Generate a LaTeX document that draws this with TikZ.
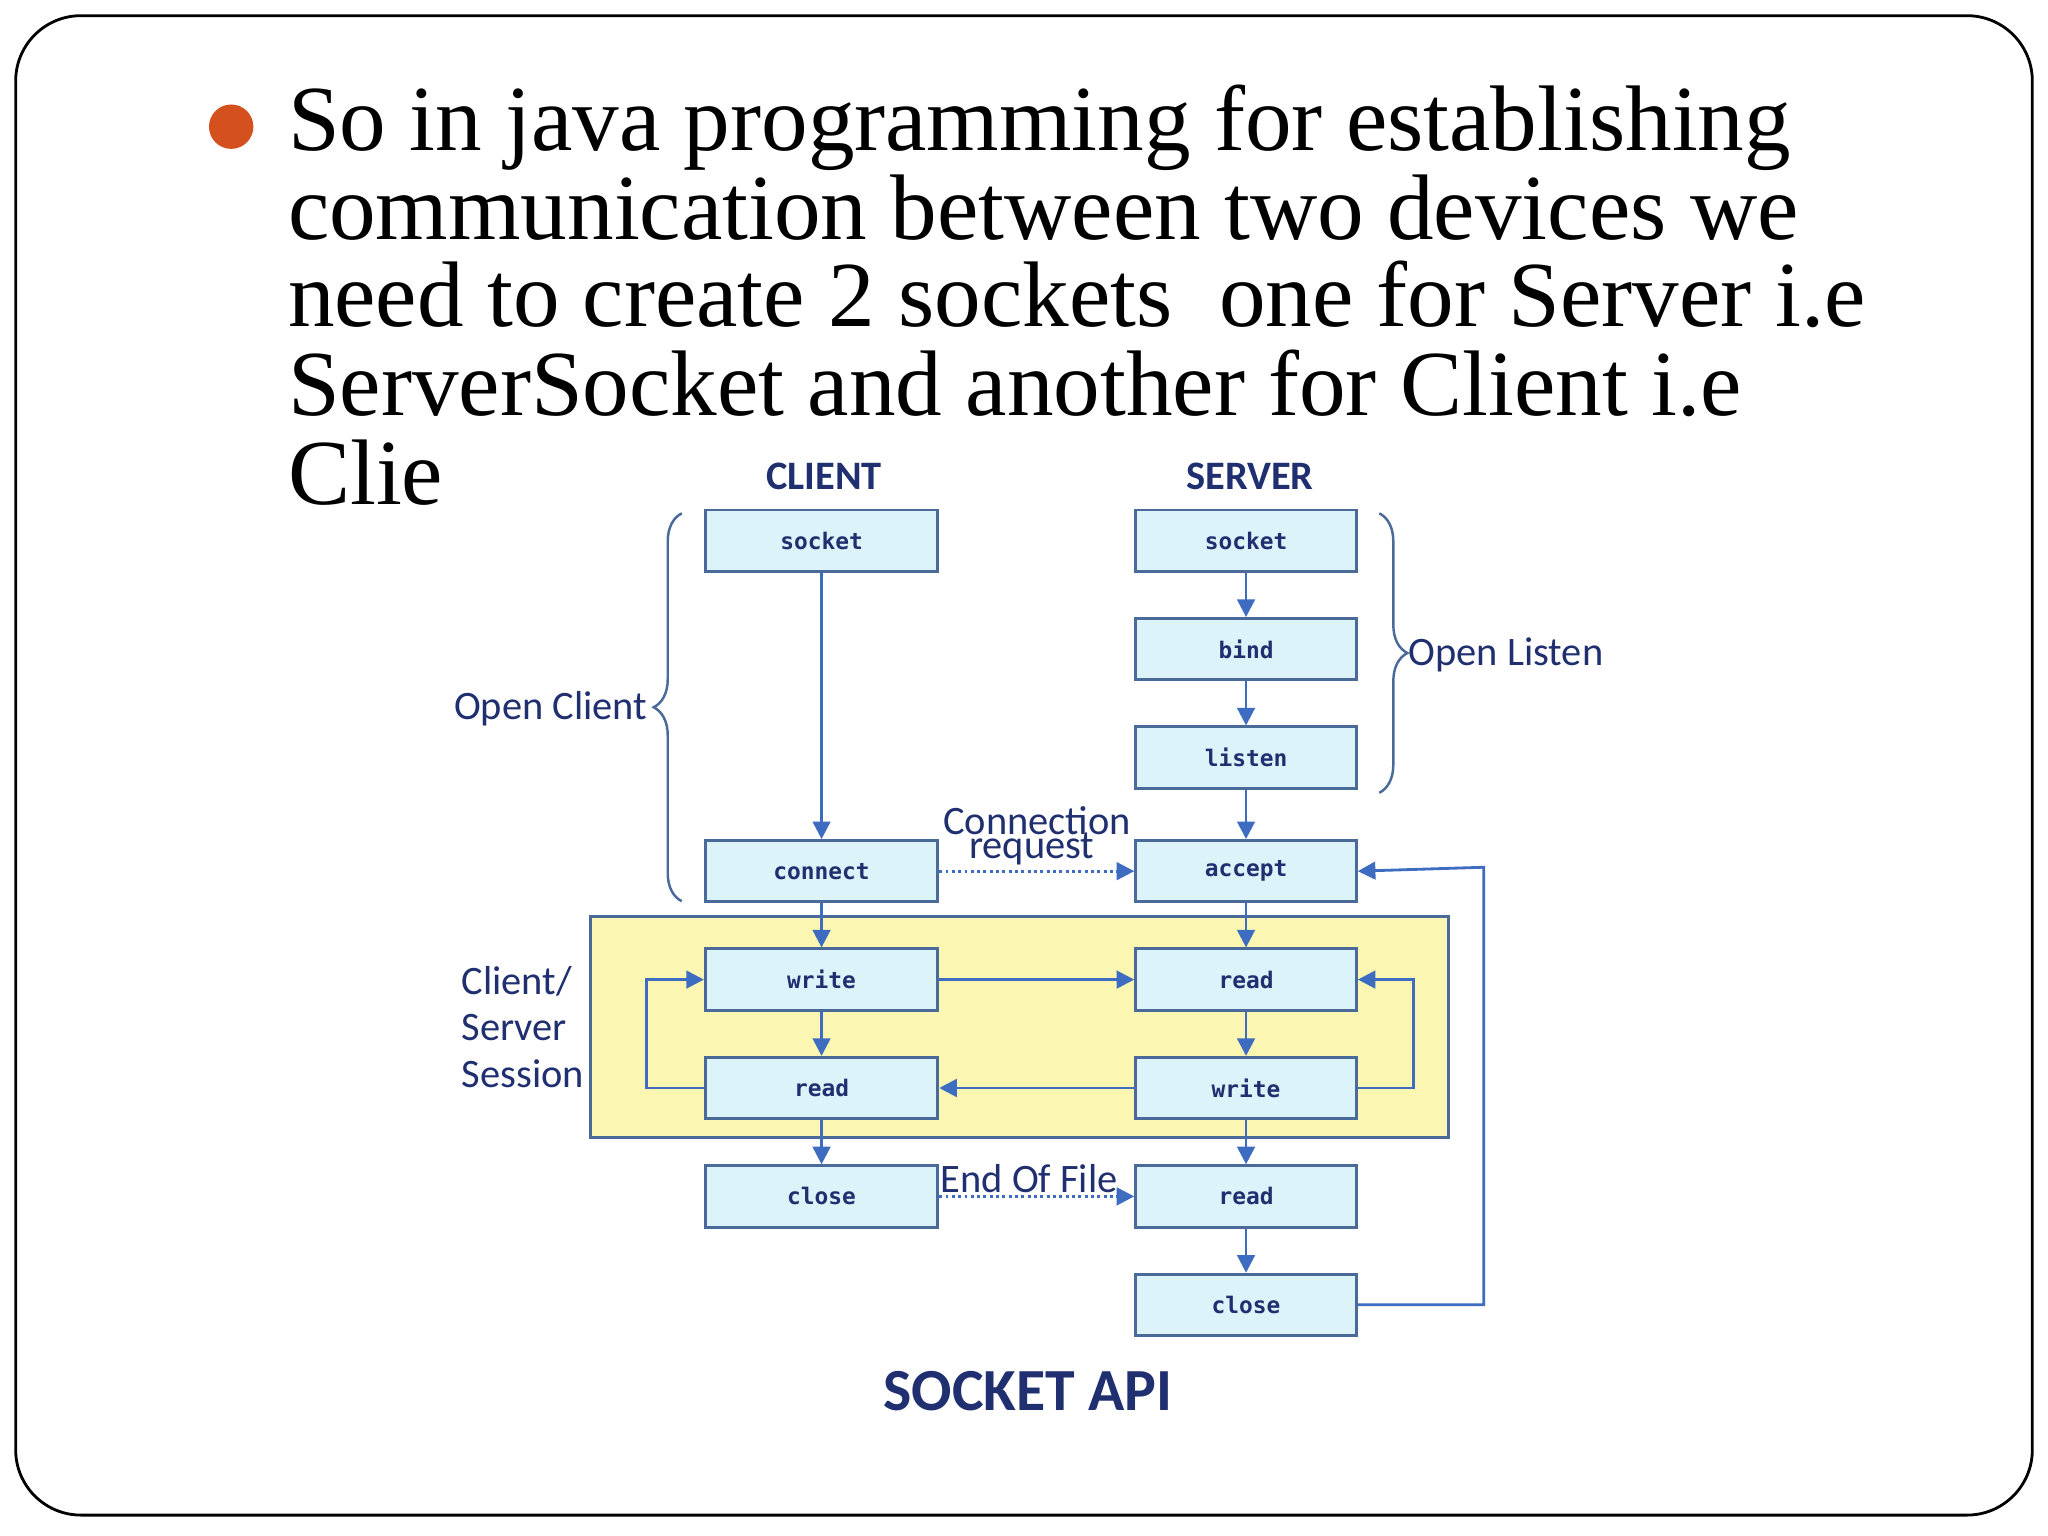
\documentclass[tikz,border=0pt]{standalone}
\usepackage{fontspec}
\setmainfont{Liberation Serif}
\newfontfamily\lblf{Carlito}
\newfontfamily\boxf{DejaVu Sans Mono}
\usetikzlibrary{arrows.meta,decorations.pathreplacing}
\definecolor{navy}{HTML}{1F2F6F}
\definecolor{bxfill}{HTML}{DDF3FA}
\definecolor{bxline}{HTML}{4A6A9A}
\definecolor{arr}{HTML}{3D6CC0}
\definecolor{yel}{HTML}{FBF7B2}
\definecolor{bul}{HTML}{D4501E}
\begin{document}
\begin{tikzpicture}[x=0.013061cm,y=-0.013061cm,
 bx/.style={draw=bxline,line width=0.8pt,fill=bxfill,minimum width=178*0.013061cm,minimum height=47*0.013061cm,inner sep=0pt,font=\boxf\bfseries\fontsize{6.5}{7}\selectfont,text=navy},
 sbx/.style={bx,minimum width=169*0.013061cm},
 lbl/.style={font=\lblf\fontsize{11.5}{13}\selectfont,text=navy,inner sep=0pt},
 ar/.style={draw=arr,line width=0.8pt,-{Triangle[length=5pt,width=5pt]}},
 dt/.style={ar,densely dotted},
 br/.style={bxline,line width=0.7pt,decorate,decoration={brace,amplitude=8}},
 mt/.style={anchor=base west,inner sep=0pt,font=\fontsize{26.5}{28}\selectfont}]
\useasboundingbox (0,0) rectangle (1568,1176);
\fill[white] (0,0) rectangle (1568,1176);
\draw[line width=0.8pt,rounded corners=50*0.013061cm] (12,12) rectangle (1556,1160);
\fill[bul] (177,97) circle (17);
\node[mt] (t1) at (220,115) {So in java programming for establishing};
\node[mt] (t2) at (220,183) {communication between two devices we};
\node[mt] (t3) at (220,250) {need to create 2 sockets\ \ one for Server i.e};
\node[mt] (t4) at (220,318) {ServerSocket and another for Client i.e};
\node[mt] (t5) at (220,386) {Clie};
\fill[yel] (452,702) rectangle (1109,871);
\draw[bxline,line width=0.8pt] (452,702) rectangle (1109,871);
\node[lbl,font=\lblf\bfseries\fontsize{11.5}{13}\selectfont] (cl) at (631,365) {CLIENT};
\node[lbl,font=\lblf\bfseries\fontsize{11.5}{13}\selectfont] (sv) at (957,365) {SERVER};
\node[bx] (cs) at (629,414) {socket};
\node[bx] (cc) at (629,667) {connect};
\node[bx] (cw) at (629,750) {write};
\node[bx] (cr) at (629,833) {read};
\node[bx] (cx) at (629,916) {close};
\node[sbx] (ss) at (954,414) {socket};
\node[sbx] (sb) at (954,497) {bind};
\node[sbx] (sl) at (954,580) {listen};
\node[sbx] (sa) at (954,667) {accept};
\node[sbx] (sr) at (954,750) {read};
\node[sbx] (sw) at (954,833) {write};
\node[sbx] (sr2) at (954,916) {read};
\node[sbx] (sx) at (954,999) {close};
\draw[ar] (cs) -- (cc);
\draw[ar] (cc) -- (cw);
\draw[ar] (cw) -- (cr);
\draw[ar] (cr) -- (cx);
\draw[ar] (ss) -- (sb);
\draw[ar] (sb) -- (sl);
\draw[ar] (sl) -- (sa);
\draw[ar] (sa) -- (sr);
\draw[ar] (sr) -- (sw);
\draw[ar] (sw) -- (sr2);
\draw[ar] (sr2) -- (sx);
\draw[dt] (cc) -- (sa);
\draw[dt] (cx) -- (sr2);
\draw[ar] (cw) -- (sr);
\draw[ar] (sw) -- (cr);
\draw[ar] (cr.west) -- (495,833) -- (495,750) -- (cw.west);
\draw[ar] (sw.east) -- (1082,833) -- (1082,750) -- (sr.east);
\draw[ar] (sx.east) -- (1136,999) -- (1136,664) -- (sa.east);
\node[lbl] (cq1) at (794,628) {Connection};
\node[lbl] (cq2) at (790,650) {request};
\node[lbl] (eof) at (788,902) {End Of File};
\draw[br] (522,690) -- (522,393);
\draw[br] (1056,393) -- (1056,607);
\node[lbl,anchor=east] (oc) at (496,543) {Open Client};
\node[lbl,anchor=west] (ol) at (1078,501) {Open Listen};
\node[lbl,anchor=west] (s1) at (353,751) {Client/};
\node[lbl,anchor=west] (s2) at (353,787) {Server};
\node[lbl,anchor=west] (s3) at (353,822) {Session};
\node[lbl,font=\lblf\bfseries\fontsize{17}{19}\selectfont] (api) at (787,1065) {SOCKET API};
\end{tikzpicture}
\end{document}
